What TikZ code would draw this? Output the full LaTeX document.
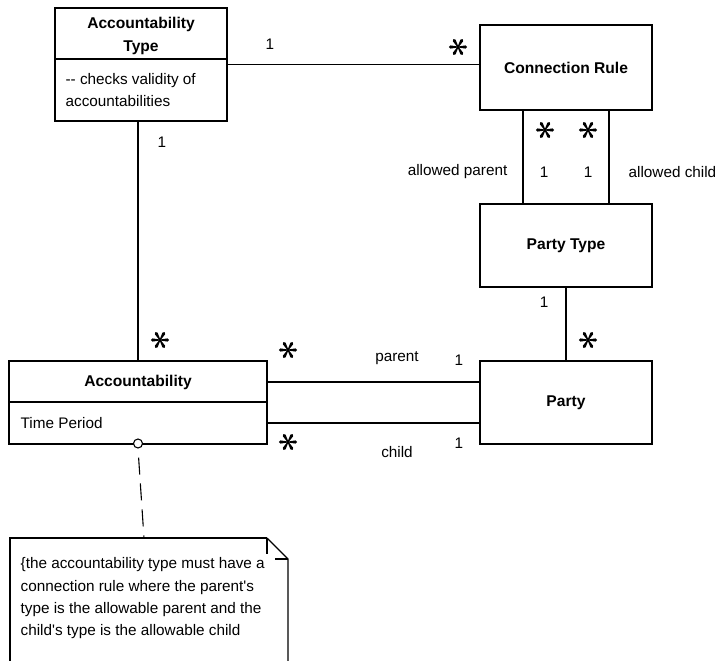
\documentclass[tikz,border=0pt]{standalone}
\usepackage{fontspec}
\setmainfont{Liberation Sans}
\begin{document}
\begin{tikzpicture}[x=1pt,y=-1pt,
  line width=1.3pt,
  classbox/.style={draw,minimum width=172pt,inner sep=0pt},
  title/.style={font=\fontsize{15.6}{23}\selectfont\bfseries,inner sep=0pt,align=center},
  lbl/.style={font=\fontsize{15.3}{22}\selectfont,inner sep=0pt},
  manystar/.pic={
    \foreach \a in {0,60,...,300}{
      \fill[rotate=\a] (0,-0.5) -- (7.6,-1.6)
        arc[start angle=-90,end angle=90,radius=1.6] -- (0,0.5) -- cycle;
    }
  },
]
\useasboundingbox (0,0) rectangle (718,661);

% classes
\node[classbox,minimum height=113pt] (at) at (141,64.5) {};
\draw (at.west |- 0,59) -- (at.east |- 0,59);
\node[title] (attitle) at (141,35.5) {Accountability\\Type};
\node[lbl,anchor=west,align=left] (atbody) at (65,90.5) {-{}- checks validity of\\accountabilities};

\node[classbox,minimum height=85pt] (cr) at (566,67.5) {};
\node[title] (crtitle) at (cr) {Connection Rule};

\node[classbox,minimum height=83pt] (pt) at (566,245.5) {};
\node[title] (pttitle) at (pt) {Party Type};

\node[classbox,minimum height=83pt] (party) at (566,402.5) {};
\node[title] (partytitle) at (party) {Party};

\node[classbox,minimum width=258pt,minimum height=83pt] (acc) at (138,402.5) {};
\draw (acc.west |- 0,402) -- (acc.east |- 0,402);
\node[title] (acctitle) at (138,382) {Accountability};
\node[lbl,anchor=west] (acctime) at (20,423) {Time Period};

% associations
\draw (at.east) -- (at.east -| cr.west);
\draw (acc.north) -- (acc.north |- at.south);
\draw ([xshift=-43pt]cr.south) -- ([xshift=-43pt]pt.north);
\draw ([xshift=43pt]cr.south) -- ([xshift=43pt]pt.north);
\draw (pt.south) -- (party.north);
\draw ([yshift=20.5pt]acc.east) -- ([yshift=20.5pt]acc.east -| party.west);
\draw ([yshift=-20.5pt]acc.east) -- ([yshift=-20.5pt]acc.east -| party.west);

% multiplicities and role names
\node[lbl] (m1) at (270,44) {1};
\pic (m2) at (458,47) {manystar};
\pic (m3) at (545,130) {manystar};
\pic (m4) at (588,130) {manystar};
\node[lbl] (m5) at (544,172) {1};
\node[lbl] (m6) at (588,172) {1};
\node[lbl,anchor=east] (rp) at (508,172) {allowed parent};
\node[lbl,anchor=west] (rc) at (628,172) {allowed child};
\node[lbl] (m7) at (544,302) {1};
\pic (m8) at (588,340) {manystar};
\node[lbl] (m9) at (162,142) {1};
\pic (m10) at (160,340) {manystar};
\pic (m11) at (288,350) {manystar};
\pic (m12) at (288,442) {manystar};
\node[lbl] (rpar) at (397,358) {parent};
\node[lbl] (m13) at (459,360) {1};
\node[lbl] (rchi) at (397,452) {child};
\node[lbl] (m14) at (459,443) {1};

% constraint note
\draw (267,538) -- (10,538) -- (10,661);
\draw (267,538) -- (288,559) -- (288,661);
\draw (267,538) -- (267,554);
\draw (275,559) -- (288,559);
\coordinate (notetop) at (144,538);
\node[lbl,anchor=north west,align=left,font=\fontsize{15.3}{22.4}\selectfont] (note) at (20,557)
  {\{the accountability type must have a\\connection rule where the parent\textquotesingle s\\type is the allowable parent and the\\child\textquotesingle s type is the allowable child};

\node[draw,circle,fill=white,minimum size=9pt,inner sep=0pt,line width=1.1pt] (anchorpt) at (138,443.5) {};
\draw[line width=1.1pt,dash pattern=on 17pt off 9pt,dash phase=-9pt] (anchorpt.south) -- (notetop);
\end{tikzpicture}
\end{document}
